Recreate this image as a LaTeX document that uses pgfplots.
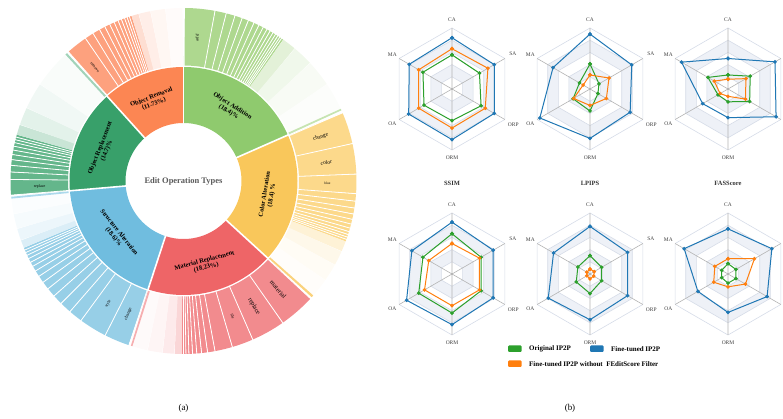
\documentclass[border=0pt]{standalone}
\usepackage{pgfplots}
\pgfplotsset{compat=1.18}
\usepgfplotslibrary{polar}
\usepackage{fontspec}
\setmainfont{Liberation Serif}
\definecolor{oaM}{HTML}{8FCA6E}\definecolor{oaO}{HTML}{AED88F}
\definecolor{caM}{HTML}{F9C75B}\definecolor{caO}{HTML}{FCD98B}
\definecolor{mrM}{HTML}{EE6567}\definecolor{mrO}{HTML}{F28B8E}
\definecolor{saM}{HTML}{70BDDF}\definecolor{saO}{HTML}{97CFE7}
\definecolor{orM}{HTML}{38A06A}\definecolor{orO}{HTML}{64B68B}
\definecolor{rmM}{HTML}{FC8653}\definecolor{rmO}{HTML}{FDA17E}
\definecolor{cG}{HTML}{2CA02C}\definecolor{cB}{HTML}{1F77B4}\definecolor{cO}{HTML}{FF7F0E}
\definecolor{gridc}{HTML}{D6DCE8}\definecolor{shadec}{HTML}{EEF1F7}\definecolor{spokec}{HTML}{B4B4B4}
% ring segment: color, c1, c2 (clockwise deg from top), rc, width, sep r1, sep r2, sep width
\newcommand\segX[8]{%
 \pgfmathsetmacro\sA{90-(#3)}\pgfmathsetmacro\sB{90-(#2)}%
 \pgfmathtruncatemacro\sN{max(2,round(abs(#3-#2))+2)}%
 \edef\tmp{\noexpand\addplot[draw=#1,line width=#5bp,domain=\sA:\sB,samples=\sN,forget plot,no markers]{#4};\noexpand\addplot[draw=white,line width=#8bp,forget plot,no markers] coordinates{(\sB,#6)(\sB,#7)};}%
 \tmp}
\newcommand\segY[5]{%
 \pgfmathsetmacro\sA{90-(#3)}\pgfmathsetmacro\sB{90-(#2)}%
 \pgfmathtruncatemacro\sN{max(2,round(abs(#3-#2))+2)}%
 \edef\tmp{\noexpand\addplot[draw=#1,line width=#5bp,domain=\sA:\sB,samples=\sN,forget plot,no markers]{#4};}%
 \tmp}
\newcommand\segI[3]{\segX{#1}{#2}{#3}{86}{56}{57}{115}{1.6}}
\newcommand\segO[3]{\segX{#1}{#2}{#3}{144.25}{57.5}{114.5}{174.5}{0.8}}
\newcommand\segF[3]{\segY{#1}{#2}{#3}{144.25}{57.5}}
\pgfplotsset{radar/.style={scale only axis,width=122bp,height=122bp,ymin=0,ymax=1,xmin=0,xmax=360,
  enlargelimits=false,hide axis,clip=false,anchor=center}}
\tikzset{rlab/.style={font=\fontsize{5.5}{6}\selectfont,text=black!75,inner sep=0pt},
  ilab/.style={font=\bfseries\fontsize{6.5}{7}\selectfont,align=center,inner sep=0pt}}
\newcommand\hexa[2]{\addplot[draw=gridc,fill=#2,line width=0.6bp,forget plot] coordinates {(90,#1)(30,#1)(330,#1)(270,#1)(210,#1)(150,#1)(90,#1)};}
\newcommand\radarbase{%
 \hexa{1}{white}\hexa{0.8}{shadec}\hexa{0.6}{white}\hexa{0.4}{shadec}\hexa{0.2}{white}%
 \addplot[draw=spokec,line width=0.6bp,forget plot] coordinates {(90,1)(90,0)(30,1)(30,0)(330,1)(330,0)(270,1)(270,0)(210,1)(210,0)(150,1)};
 \node[rlab] at (axis cs:90,1.13) {CA};
 \node[rlab] at (axis cs:270,1.13) {ORM};
 \node[rlab] at (axis cs:210,1.13) {OA};
 \node[rlab] at (axis cs:150,1.13) {MA};
}
\newcommand\radargrid{\radarbase
 \node[rlab] at (axis cs:30,1.15) {SA};
 \node[rlab] at (axis cs:330,1.16) {ORP};
}
\newcommand\ser[2]{\addplot[draw=#1,line width=1bp,mark=*,mark size=1.3bp,mark options={fill=#1,draw=#1}] coordinates {#2};}
\begin{document}
\begin{tikzpicture}
\path[use as bounding box] (0,0) rectangle (783bp,419bp);
% ---------------- sunburst ----------------
\begin{polaraxis}[scale only axis,width=346bp,height=346bp,ymin=0,ymax=173,xmin=0,xmax=360,
  enlargelimits=false,hide axis,clip=false,at={(183.5bp,238bp)},anchor=center]
\segI{oaM}{0}{66.24}
\segI{caM}{66.24}{132.48}
\segI{mrM}{132.48}{198.11}
\segI{saM}{198.11}{265.07}
\segI{orM}{265.07}{317.99}
\segI{rmM}{317.99}{360}
\addplot[draw=white,line width=1.6bp,forget plot] coordinates {(90,57)(90,115)};
% Object Addition
\segO{oaO}{0.3}{10.5}\segO{oaO}{10.5}{14.3}\segO{oaO}{14.3}{17.3}\segO{oaO}{17.3}{19.8}
\segO{oaO}{19.8}{22}\segO{oaO}{22}{24}\segO{oaO}{24}{25.8}\segO{oaO}{25.8}{27.4}
\segO{oaO}{27.4}{28.8}\segO{oaO}{28.8}{30}\segO{oaO}{30}{31.1}\segO{oaO}{31.1}{32.1}
\segO{oaO}{32.1}{33}\segO{oaO}{33}{33.8}\segO{oaO}{33.8}{34.5}\segO{oaO}{34.5}{35.2}
\segF{oaO!35}{35.2}{40}\segF{oaO!18}{40}{47}\segF{oaO!9}{47}{56}\segF{oaO!4}{56}{65.3}\segF{oaO!70}{65.3}{66}
% Color Alteration
\segO{caO}{66.8}{77.5}\segO{caO}{77.5}{87.7}\segO{caO}{87.7}{94.2}\segO{caO}{94.2}{96.7}
\segO{caO}{96.7}{99}\segO{caO}{99}{101}\segO{caO}{101}{102.8}\segO{caO}{102.8}{104.4}
\segO{caO}{104.4}{105.8}\segO{caO}{105.8}{107}\segO{caO}{107}{108}\segO{caO}{108}{108.9}
\segO{caO}{108.9}{109.7}\segO{caO}{109.7}{110.4}
\segF{caO!35}{110.4}{114}\segF{caO!18}{114}{119}\segF{caO!9}{119}{125}\segF{caO!4}{125}{131.4}\segF{caM!80}{131.4}{132.2}
% Material Replacement
\segO{mrO}{132.8}{145}\segO{mrO}{145}{156.4}\segO{mrO}{156.4}{163.6}\segO{mrO}{163.6}{169.5}
\segO{mrO}{169.5}{172}\segO{mrO}{172}{174}\segO{mrO}{174}{175.6}\segO{mrO}{175.6}{177}
\segO{mrO}{177}{178.2}\segO{mrO}{178.2}{179.2}\segO{mrO}{179.2}{180}\segO{mrO}{180}{180.7}
\segF{mrO!35}{180.7}{183}\segF{mrO!18}{183}{187}\segF{mrO!9}{187}{192}\segF{mrO!4}{192}{197.1}\segF{mrO!70}{197.1}{197.8}
% Structure Alteration
\segO{saO}{198.4}{206.9}\segO{saO}{206.9}{216.3}\segO{saO}{216.3}{221}\segO{saO}{221}{225}
\segO{saO}{225}{228.4}\segO{saO}{228.4}{231.5}\segO{saO}{231.5}{234.2}\segO{saO}{234.2}{236.6}
\segO{saO}{236.6}{238.7}\segO{saO}{238.7}{240.5}\segO{saO}{240.5}{242}\segO{saO}{242}{243.4}
\segO{saO}{243.4}{244.6}\segO{saO}{244.6}{245.6}\segO{saO}{245.6}{246.5}\segO{saO}{246.5}{247.3}
\segF{saO!35}{247.3}{250}\segF{saO!18}{250}{254}\segF{saO!9}{254}{259}\segF{saO!4}{259}{264.1}\segF{saO!80}{264.1}{264.8}
% Object Replacement
\segO{orO}{265.3}{270.5}\segO{orO}{270.5}{273}\segO{orO}{273}{275.2}\segO{orO}{275.2}{277.1}
\segO{orO}{277.1}{278.8}\segO{orO}{278.8}{280.3}\segO{orO}{280.3}{281.6}\segO{orO}{281.6}{282.8}
\segO{orO}{282.8}{283.8}\segO{orO}{283.8}{284.7}\segO{orO}{284.7}{285.5}
\segF{orO!35}{285.5}{289}\segF{orO!18}{289}{295}\segF{orO!9}{295}{304}\segF{orO!4}{304}{316.9}\segF{orO!60}{316.9}{317.7}
% Object Removal
\segO{rmO}{318.3}{325.5}\segO{rmO}{325.5}{328.5}\segO{rmO}{328.5}{331}\segO{rmO}{331}{333}
\segO{rmO}{333}{334.8}\segO{rmO}{334.8}{336.4}\segO{rmO}{336.4}{337.8}\segO{rmO}{337.8}{339}
\segO{rmO}{339}{340.1}\segO{rmO}{340.1}{341}\segO{rmO}{341}{341.8}\segO{rmO}{341.8}{342.5}
\segF{rmO!35}{342.5}{345}\segF{rmO!18}{345}{349}\segF{rmO!9}{349}{354}\segF{rmO!4}{354}{359.7}
% inner labels
\node[ilab,rotate=-33.1] at (axis cs:56.9,86) {Object Addition\\(18.4)\%};
\node[ilab,rotate=80.65] at (axis cs:350.65,86) {Color Alteration\\(18.4) \%};
\node[ilab,rotate=14.7] at (axis cs:284.7,86) {Material Replacement\\(18.23\%)};
\node[ilab,rotate=-51.5] at (axis cs:218.5,86) {Structure Alteration\\(18.6)\%};
\node[ilab,rotate=68.5] at (axis cs:158.5,86) {Object Replacement\\(14.7)\%};
\node[ilab,rotate=21] at (axis cs:111,86) {Object Removal\\(11.73\%)};
\node[font=\bfseries\fontsize{8.5}{9}\selectfont,text=black!65] at (axis cs:0,0) {Edit Operation Types};
% outer labels
\node[inner sep=0pt,font=\fontsize{4.5}{5}\selectfont,rotate=84.6] at (axis cs:84.6,144) {add};
\node[inner sep=0pt,font=\fontsize{5.5}{6}\selectfont,rotate=17.8] at (axis cs:17.8,144) {change};
\node[inner sep=0pt,font=\fontsize{5.5}{6}\selectfont,rotate=7.4] at (axis cs:7.4,144) {color};
\node[inner sep=0pt,font=\fontsize{3.5}{4}\selectfont,rotate=-1] at (axis cs:-1,144) {blue};
\node[inner sep=0pt,font=\fontsize{6.5}{7}\selectfont,rotate=-48.9] at (axis cs:-48.9,144) {material};
\node[inner sep=0pt,font=\fontsize{6.5}{7}\selectfont,rotate=-60.7] at (axis cs:-60.7,144) {replace};
\node[inner sep=0pt,font=\fontsize{4}{4.5}\selectfont,rotate=-70] at (axis cs:-70,144) {tile};
\node[inner sep=0pt,font=\fontsize{4.5}{5}\selectfont,rotate=67.4] at (axis cs:-112.6,144) {change};
\node[inner sep=0pt,font=\fontsize{4}{4.5}\selectfont,rotate=58.4] at (axis cs:-121.6,144) {style};
\node[inner sep=0pt,font=\fontsize{4}{4.5}\selectfont,rotate=2.1] at (axis cs:-177.9,144) {replace};
\node[inner sep=0pt,font=\fontsize{4}{4.5}\selectfont,rotate=-51.9] at (axis cs:128.1,144) {remove};
\end{polaraxis}
% ---------------- radar charts ----------------
\begin{polaraxis}[radar,at={(452bp,330bp)}]
\radargrid
\ser{cG}{(90,.56)(30,.52)(330,.55)(270,.52)(210,.53)(150,.55)(90,.56)}
\ser{cB}{(90,.84)(30,.80)(330,.80)(270,.83)(210,.82)(150,.81)(90,.84)}
\ser{cO}{(90,.66)(30,.68)(330,.63)(270,.64)(210,.63)(150,.63)(90,.66)}
\end{polaraxis}
\begin{polaraxis}[radar,at={(590bp,330bp)}]
\radargrid
\ser{cG}{(90,.41)(30,.17)(330,.15)(270,.36)(210,.32)(150,.20)(90,.41)}
\ser{cB}{(90,.90)(30,.79)(330,.76)(270,.81)(210,.95)(150,.70)(90,.90)}
\ser{cO}{(90,.23)(30,.36)(330,.31)(270,.27)(210,.31)(150,.13)(90,.23)}
\end{polaraxis}
\begin{polaraxis}[radar,at={(728bp,330bp)}]
\radarbase
\ser{cG}{(90,.23)(30,.42)(330,.41)(270,.21)(210,.19)(150,.38)(90,.23)}
\ser{cB}{(90,.50)(30,.89)(330,.91)(270,.47)(210,.48)(150,.88)(90,.50)}
\ser{cO}{(90,.16)(30,.34)(330,.33)(270,.12)(210,.15)(150,.26)(90,.16)}
\end{polaraxis}
\begin{polaraxis}[radar,at={(452bp,145bp)}]
\radargrid
\ser{cG}{(90,.66)(30,.55)(330,.55)(270,.64)(210,.63)(150,.55)(90,.66)}
\ser{cB}{(90,.85)(30,.78)(330,.78)(270,.83)(210,.86)(150,.76)(90,.85)}
\ser{cO}{(90,.50)(30,.52)(330,.52)(270,.52)(210,.52)(150,.44)(90,.50)}
\end{polaraxis}
\begin{polaraxis}[radar,at={(590bp,145bp)}]
\radargrid
\ser{cG}{(90,.30)(30,.22)(330,.22)(270,.32)(210,.26)(150,.23)(90,.30)}
\ser{cB}{(90,.78)(30,.71)(330,.71)(270,.75)(210,.79)(150,.69)(90,.78)}
\ser{cO}{(90,.08)(30,.08)(330,.07)(270,.08)(210,.06)(150,.06)(90,.08)}
\end{polaraxis}
\begin{polaraxis}[radar,at={(728bp,145bp)}]
\radarbase
\ser{cG}{(90,.17)(30,.15)(330,.15)(270,.15)(210,.12)(150,.12)(90,.17)}
\ser{cB}{(90,.74)(30,.83)(330,.74)(270,.63)(210,.57)(150,.83)(90,.74)}
\ser{cO}{(90,.25)(30,.50)(330,.33)(270,.21)(210,.27)(150,.25)(90,.25)}
\end{polaraxis}
% titles
\node[font=\bfseries\fontsize{6.5}{7}\selectfont,text=black!80] at (452bp,236bp) {SSIM};
\node[font=\bfseries\fontsize{6.5}{7}\selectfont,text=black!80] at (590bp,236bp) {LPIPS};
\node[font=\bfseries\fontsize{6.5}{7}\selectfont,text=black!80] at (728bp,236bp) {FASScore};
% legend
\fill[cG,rounded corners=1bp] (508bp,67bp) rectangle (521.5bp,73.5bp);
\node[anchor=west,inner sep=0pt,font=\bfseries\fontsize{7}{8}\selectfont] at (529bp,70bp) {Original IP2P};
\fill[cB,rounded corners=1bp] (590bp,67bp) rectangle (603.5bp,73.5bp);
\node[anchor=west,inner sep=0pt,font=\bfseries\fontsize{7}{8}\selectfont] at (611bp,70bp) {Fine-tuned IP2P};
\fill[cO,rounded corners=1bp] (508bp,52bp) rectangle (521.5bp,58.5bp);
\node[anchor=west,inner sep=0pt,font=\bfseries\fontsize{7}{8}\selectfont] at (529bp,55bp) {Fine-tuned IP2P without\ \ FEditScore Filter};
% captions
\node[font=\fontsize{9}{10}\selectfont] at (183.5bp,11bp) {(a)};
\node[font=\fontsize{9}{10}\selectfont] at (570bp,11bp) {(b)};
\end{tikzpicture}
\end{document}
